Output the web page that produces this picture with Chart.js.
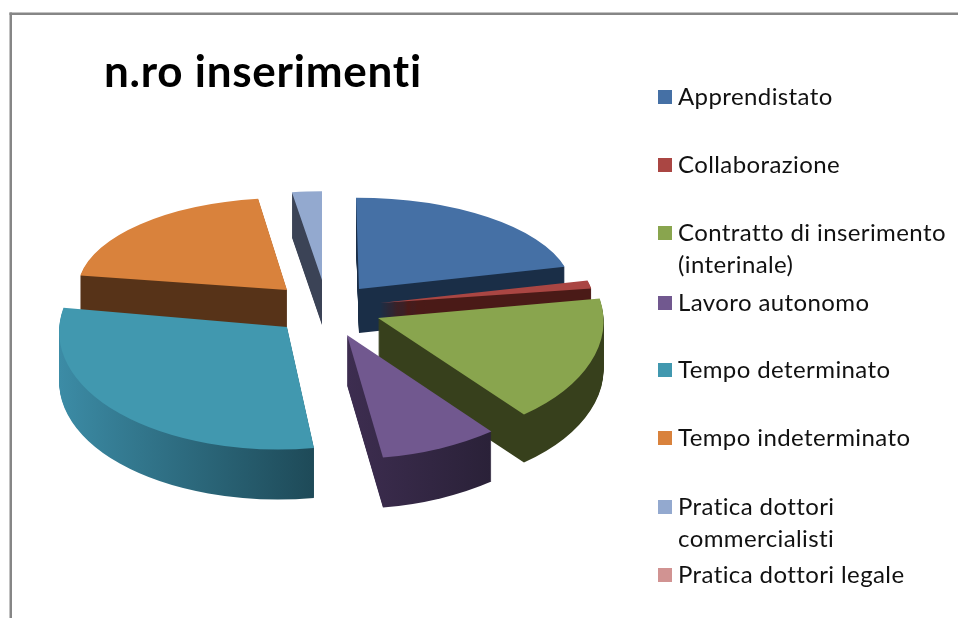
<!DOCTYPE html>
<html><head><meta charset="utf-8">
<style>html,body{margin:0;padding:0;background:#fff}canvas{display:block}</style>
<script src="https://cdn.jsdelivr.net/npm/chart.js@4/dist/chart.umd.js"></script>
</head><body>
<canvas id="c" width="958" height="618"></canvas>
<script>
const categories = ['Apprendistato','Collaborazione',['Contratto di inserimento','(interinale)'],'Lavoro autonomo','Tempo determinato','Tempo indeterminato',['Pratica dottori','commercialisti'],'Pratica dottori legale'];
const values = [21.1,1.4,16.7,8.3,30.0,20.3,2.2,0];
const topColors = ['#4570a5','#aa4643','#89a54e','#71588f','#4198af','#d9823c','#93a9cf','#d19392'];
const sideLeft  = ['#1a2e47','#4a1a17','#37401c','#3d2d50','#3c8ca6','#573318','#3b4356','#6d4c4b'];
const sideRight = ['#1a2e47','#4a1a17','#37401c','#2a2138','#1e4a58','#573318','#3b4356','#6d4c4b'];
// 3D pose of each exploded slice
const explodeX = [26,47,45,14,-46,-46,-11,0];
const explodeY = [-16,-2,13,30,22,-15,-25,0];
const squashX = [.925,.93,.98,1,.99,.91,.95,1];
const squashY = [.396,.4,.54,.54,.533,.4,.385,.5];
const shearX  = [.013,0,.025,0,-.038,0,0,0];
const depth   = [44,44,48,50,50,40,45,0];
const drawOrder = [6,5,0,1,2,3,4];
const legendY = [98,166,234,304,371,439,508,576];

const scene = {
  id:'scene',
  beforeDraw(chart){
    const {ctx}=chart;
    ctx.letterSpacing='0.75px';
    ctx.save();
    ctx.fillStyle='#868686';
    ctx.fillRect(9.5,12.5,948.5,2.5);
    ctx.fillRect(9.5,12.5,2.5,605.5);
    ctx.restore();
  },
  beforeDatasetDraw(chart,args){
    const {ctx}=chart;
    const arcs=args.meta.data;
    drawOrder.forEach(i=>{
      const arc=arcs[i];
      if(!arc||arc.circumference===0) return;
      const base=arc.options;
      const common={offset:0,spacing:0,circular:true,borderAlign:'center',borderWidth:0,borderColor:'transparent',borderRadius:0,borderDash:[],borderDashOffset:0,borderJoinStyle:'round'};
      let lo=0,hi=0;
      for(let s=0;s<=40;s++){const x=arc.outerRadius*Math.cos(arc.startAngle+(arc.endAngle-arc.startAngle)*s/40);lo=Math.min(lo,x);hi=Math.max(hi,x);}
      const g=ctx.createLinearGradient(arc.x+lo,0,arc.x+hi,0);
      g.addColorStop(0,sideLeft[i]);g.addColorStop(1,sideRight[i]);
      const place=d=>{
        ctx.translate(arc.x+explodeX[i],arc.y+explodeY[i]+d);
        ctx.transform(squashX[i],0,shearX[i],squashY[i],0,0);
        ctx.translate(-arc.x,-arc.y);
      };
      for(let d=depth[i];d>=1;d--){
        ctx.save();place(d);
        arc.options=Object.assign({},common,{backgroundColor:g});
        arc.draw(ctx);
        ctx.restore();
      }
      ctx.save();place(0);
      arc.options=Object.assign({},common,{backgroundColor:topColors[i]});
      arc.draw(ctx);
      ctx.restore();
      arc.options=base;
    });
    return false;
  },
  afterDraw(chart){
    const {ctx}=chart;
    ctx.save();
    ctx.letterSpacing='0.4px';
    ctx.font='24px Lato';
    ctx.textBaseline='middle';
    categories.forEach((label,i)=>{
      const lines=Array.isArray(label)?label:[label];
      ctx.fillStyle=topColors[i];
      ctx.fillRect(658,legendY[i]-8,14,14);
      ctx.fillStyle='#111';
      lines.forEach((t,j)=>ctx.fillText(t,678,legendY[i]-1+j*32));
    });
    ctx.restore();
  }
};

new Chart(document.getElementById('c'),{
  type:'pie',
  data:{labels:categories,datasets:[{data:values,backgroundColor:topColors,borderWidth:0}]},
  options:{
    responsive:false,animation:false,
    radius:230,
    layout:{padding:{left:104,right:396,top:46,bottom:107}},
    plugins:{
      legend:{display:false},tooltip:{enabled:false},
      title:{display:true,text:'n.ro inserimenti',align:'start',color:'#000',padding:0,font:{family:'Lato',size:44,weight:'bold'}}
    }
  },
  plugins:[scene]
});
</script>
</body></html>
